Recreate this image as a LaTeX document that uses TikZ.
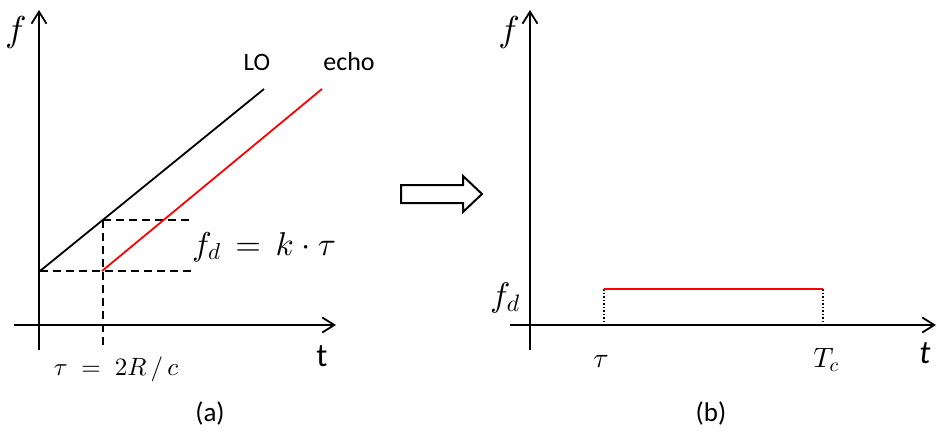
\documentclass[tikz,border=0pt]{standalone}
\usepackage[no-math]{fontspec}
\setmainfont{Carlito}
\DeclareFontShape{OML}{cmm}{m}{it}{<->cmmi10}{}
\DeclareFontShape{OMS}{cmsy}{m}{n}{<->cmsy10}{}
\DeclareFontShape{OT1}{cmr}{m}{n}{<->cmr10}{}
\usetikzlibrary{arrows.meta}
\newcommand\fsz[1]{\fontsize{#1}{#1}\selectfont}
\begin{document}
\begin{tikzpicture}[x=1pt,y=-1pt,
  axis/.style={line width=1.8pt, -{Straight Barb[length=12pt,width=15pt,line width=1.8pt]}},
  sweep/.style={line width=1.8pt},
  dashline/.style={line width=1.8pt, dash pattern=on 8pt off 5pt},
  dotline/.style={line width=1.5pt, dotted},
  lbl/.style={inner sep=0pt, anchor=base}]
\useasboundingbox (0,0) rectangle (937,432);
% ---------- panel (a)
\coordinate (ay0) at (39,350); \coordinate (ay1) at (39,10);
\coordinate (ax0) at (14,325); \coordinate (ax1) at (336,325);
\draw[axis] (ay0) -- (ay1);
\draw[axis] (ax0) -- (ax1);
\coordinate (lo0) at (40,271); \coordinate (lo1) at (264,89);
\coordinate (ec0) at (102,271); \coordinate (ec1) at (322,89);
\coordinate (d1) at (191,271); \coordinate (d2) at (103,220);
\coordinate (d3) at (191,220); \coordinate (d4) at (103,347);
\draw[dashline] (lo0) -- (d1);
\draw[dashline] (d2) -- (d3);
\draw[dashline] (d2) -- (d4);
\draw[sweep] (lo0) -- (lo1);
\draw[sweep, red] (ec0) -- (ec1);
\node[lbl] (fa) at (16,41) {\fsz{36}$f$};
\node[lbl] (lo) at (257,70) {\fsz{25}LO};
\node[lbl] (echo) at (349,70) {\fsz{26}echo};
\node[lbl] (fd) at (264,255) {\fsz{33}$f_d \,=\, k\cdot\tau$};
\node[lbl] (ta) at (322,366) {\fsz{33}t};
\node[lbl] (tau) at (116,375) {\fsz{25}$\tau \;=\; 2R\,/\,c$};
\node[lbl] (capa) at (210,421) {\fsz{27}(a)};
% ---------- block arrow
\draw[line width=2pt, fill=white] (401,185) -- (463,185) -- (463,176) -- (482,194)
  -- (463,212) -- (463,203) -- (401,203) -- cycle;
% ---------- panel (b)
\coordinate (by0) at (530,350); \coordinate (by1) at (530,10);
\coordinate (bx0) at (510,325); \coordinate (bx1) at (936,325);
\draw[axis] (by0) -- (by1);
\draw[axis] (bx0) -- (bx1);
\coordinate (r0) at (604,289); \coordinate (r1) at (823,289);
\coordinate (r0b) at (604,325); \coordinate (r1b) at (823,325);
\draw[dotline] (r0) -- (r0b);
\draw[dotline] (r1) -- (r1b);
\draw[sweep, red] (r0) -- (r1);
\node[lbl] (fb) at (509,41) {\fsz{36}$f$};
\node[lbl] (fdb) at (505,306) {\fsz{34}$f_d$};
\node[lbl] (taub) at (601,367) {\fsz{28}$\tau$};
\node[lbl] (tc) at (826,367) {\fsz{28}$T_c$};
\node[lbl] (tb) at (925,363) {\fsz{33}\itshape t};
\node[lbl] (capb) at (711,421) {\fsz{27}(b)};
\end{tikzpicture}
\end{document}
